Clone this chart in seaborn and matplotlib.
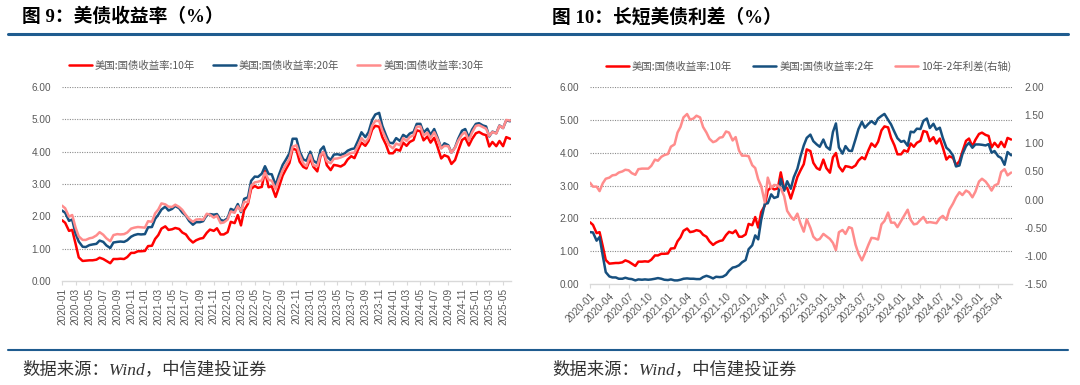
import pandas as pd
import numpy as np
import matplotlib
matplotlib.use("Agg")
import matplotlib.pyplot as plt
import matplotlib.dates as mdates
from matplotlib.lines import Line2D
import seaborn as sns

# semi-monthly readings (1st and 16th of each month), 2020-01-01 .. 2025-06-01
dates = pd.date_range("2020-01-01", periods=131, freq="SMS")

us10y = [1.88, 1.80, 1.55, 1.58, 1.15, 0.73, 0.62, 0.63, 0.64, 0.64, 0.66, 0.72,
         0.68, 0.62, 0.55, 0.68, 0.68, 0.69, 0.68, 0.74, 0.87, 0.87, 0.92, 0.92,
         0.93, 1.08, 1.09, 1.30, 1.42, 1.62, 1.69, 1.58, 1.60, 1.64, 1.61, 1.50,
         1.44, 1.30, 1.19, 1.26, 1.31, 1.33, 1.49, 1.59, 1.55, 1.63, 1.44, 1.44,
         1.51, 1.83, 1.79, 2.04, 1.72, 2.19, 2.39, 2.85, 2.94, 2.88, 2.91, 3.40,
         2.90, 2.93, 2.60, 2.89, 3.26, 3.45, 3.65, 4.10, 4.05, 3.69, 3.53, 3.48,
         3.79, 3.53, 3.39, 3.86, 3.99, 3.58, 3.43, 3.59, 3.57, 3.54, 3.61, 3.76,
         3.86, 3.80, 4.08, 4.28, 4.18, 4.33, 4.68, 4.80, 4.77, 4.45, 4.22, 3.95,
         3.95, 4.07, 4.03, 4.28, 4.18, 4.30, 4.36, 4.66, 4.63, 4.35, 4.47, 4.28,
         4.43, 4.16, 3.79, 3.89, 3.84, 3.62, 3.74, 4.03, 4.36, 4.43, 4.19, 4.39,
         4.57, 4.61, 4.54, 4.51, 4.16, 4.30, 4.17, 4.33, 4.17, 4.45, 4.40]

us20y = [2.18, 2.11, 1.86, 1.90, 1.46, 1.22, 1.06, 1.05, 1.11, 1.13, 1.15, 1.25,
         1.21, 1.10, 1.02, 1.19, 1.21, 1.22, 1.21, 1.26, 1.37, 1.42, 1.45, 1.44,
         1.45, 1.66, 1.67, 1.92, 2.05, 2.21, 2.30, 2.18, 2.23, 2.32, 2.25, 2.12,
         2.02, 1.86, 1.74, 1.82, 1.82, 1.85, 2.04, 2.07, 2.05, 2.07, 1.89, 1.86,
         1.94, 2.23, 2.18, 2.38, 2.13, 2.54, 2.59, 3.10, 3.23, 3.22, 3.32, 3.55,
         3.31, 3.30, 2.96, 3.27, 3.59, 3.75, 3.95, 4.40, 4.40, 4.01, 3.76, 3.72,
         4.00, 3.72, 3.64, 4.05, 4.16, 3.85, 3.74, 3.91, 3.92, 3.90, 3.94, 4.03,
         4.08, 4.10, 4.36, 4.60, 4.45, 4.60, 4.98, 5.15, 5.20, 4.80, 4.51, 4.28,
         4.26, 4.42, 4.33, 4.52, 4.45, 4.56, 4.61, 4.86, 4.86, 4.59, 4.71, 4.52,
         4.70, 4.45, 4.11, 4.26, 4.20, 3.97, 4.13, 4.40, 4.65, 4.70, 4.43, 4.68,
         4.86, 4.88, 4.81, 4.78, 4.47, 4.62, 4.57, 4.81, 4.73, 4.97, 4.94]

us30y = [2.33, 2.25, 1.99, 2.04, 1.65, 1.38, 1.27, 1.27, 1.32, 1.34, 1.41, 1.51,
         1.43, 1.32, 1.23, 1.42, 1.45, 1.44, 1.45, 1.50, 1.62, 1.65, 1.67, 1.66,
         1.65, 1.85, 1.83, 2.09, 2.21, 2.40, 2.37, 2.30, 2.29, 2.36, 2.29, 2.20,
         2.04, 1.92, 1.83, 1.90, 1.91, 1.89, 2.08, 2.05, 1.96, 2.02, 1.79, 1.81,
         1.90, 2.15, 2.11, 2.31, 2.16, 2.45, 2.44, 2.95, 3.05, 3.07, 3.11, 3.35,
         3.13, 3.10, 2.84, 3.12, 3.42, 3.59, 3.78, 4.15, 4.20, 3.90, 3.64, 3.55,
         3.90, 3.58, 3.55, 3.90, 3.98, 3.70, 3.64, 3.78, 3.79, 3.82, 3.87, 3.91,
         3.96, 3.97, 4.20, 4.42, 4.29, 4.42, 4.80, 4.95, 4.95, 4.65, 4.40, 4.20,
         4.10, 4.25, 4.20, 4.42, 4.33, 4.45, 4.51, 4.77, 4.78, 4.50, 4.59, 4.42,
         4.60, 4.40, 4.10, 4.18, 4.17, 3.97, 4.12, 4.34, 4.53, 4.60, 4.34, 4.59,
         4.80, 4.82, 4.76, 4.71, 4.49, 4.61, 4.56, 4.80, 4.73, 4.98, 4.96]

us2y = [1.58, 1.57, 1.32, 1.43, 0.86, 0.36, 0.23, 0.20, 0.20, 0.16, 0.16, 0.19,
        0.16, 0.15, 0.11, 0.14, 0.13, 0.14, 0.13, 0.14, 0.16, 0.18, 0.16, 0.13,
        0.12, 0.14, 0.11, 0.11, 0.13, 0.16, 0.17, 0.16, 0.16, 0.15, 0.15, 0.21,
        0.25, 0.22, 0.17, 0.22, 0.21, 0.22, 0.28, 0.40, 0.50, 0.52, 0.57, 0.66,
        0.73, 1.06, 1.18, 1.48, 1.36, 1.95, 2.44, 2.46, 2.73, 2.62, 2.66, 3.20,
        2.84, 3.13, 2.90, 3.25, 3.51, 3.87, 4.22, 4.45, 4.55, 4.35, 4.25, 4.18,
        4.40, 4.18, 4.09, 4.63, 4.89, 4.16, 3.97, 4.20, 4.06, 4.05, 4.41, 4.72,
        4.94, 4.76, 4.88, 4.96, 4.87, 5.04, 5.12, 5.18, 5.00, 4.86, 4.63, 4.44,
        4.33, 4.36, 4.21, 4.64, 4.62, 4.73, 4.72, 4.97, 5.04, 4.75, 4.88, 4.70,
        4.76, 4.45, 4.15, 4.07, 3.91, 3.58, 3.61, 3.95, 4.20, 4.30, 4.15, 4.25,
        4.25, 4.24, 4.22, 4.26, 4.00, 4.05, 3.89, 3.84, 3.63, 4.02, 3.92]

df = pd.DataFrame({"date": dates, "y10": us10y, "y20": us20y, "y30": us30y, "y2": us2y})
df["spread"] = df["y10"] - df["y2"]

lab10 = "美国:国债收益率:10年"
lab20 = "美国:国债收益率:20年"
lab30 = "美国:国债收益率:30年"
lab2 = "美国:国债收益率:2年"
lab_sp = "10年-2年利差(右轴)"

RED = "#FF0000"
BLUE = "#17507F"
PINK = "#FF8C8C"
GREY = "#595959"
RULE = "#1F5C8F"

sns.set_theme(style="white")
plt.rcParams["font.family"] = ["Liberation Sans", "Noto Sans CJK SC", "DejaVu Sans"]
plt.rcParams["axes.unicode_minus"] = False

W, H = 1080, 385
fig = plt.figure(figsize=(W / 100, H / 100), dpi=100)

ax1 = fig.add_axes([62 / W, 1 - 281 / H, 449 / W, 194 / H])
ax2 = fig.add_axes([590 / W, 1 - 284 / H, 422 / W, 197 / H])
ax2r = ax2.twinx()

lw = 1.8
sns.lineplot(data=df, x="date", y="y10", ax=ax1, color=RED, lw=lw, label=lab10, legend=False)
sns.lineplot(data=df, x="date", y="y20", ax=ax1, color=BLUE, lw=lw, label=lab20, legend=False)
sns.lineplot(data=df, x="date", y="y30", ax=ax1, color=PINK, lw=lw, label=lab30, legend=False)

sns.lineplot(data=df, x="date", y="y10", ax=ax2, color=RED, lw=lw, label=lab10, legend=False)
sns.lineplot(data=df, x="date", y="y2", ax=ax2, color=BLUE, lw=lw, label=lab2, legend=False)
sns.lineplot(data=df, x="date", y="spread", ax=ax2r, color=PINK, lw=lw, label=lab_sp, legend=False)

xmin, xmax = pd.Timestamp("2020-01-01"), pd.Timestamp("2025-06-05")
for ax in (ax1, ax2, ax2r):
    ax.set_xlim(xmin, xmax)
    ax.set_xlabel("")
    ax.set_ylabel("")
    if ax.get_legend():
        ax.get_legend().remove()

for ax in (ax1, ax2):
    ax.set_ylim(0, 6)
    ax.set_yticks(np.arange(0, 6.01, 1))
    ax.yaxis.set_major_formatter(matplotlib.ticker.FormatStrFormatter("%.2f"))
    for s in ("top", "right", "left"):
        ax.spines[s].set_visible(False)
    ax.spines["bottom"].set_color("#d9d9d9")
    ax.spines["bottom"].set_linewidth(1.0)
    ax.tick_params(axis="y", length=0, pad=8, labelsize=7.2, labelcolor=GREY)
    ax.tick_params(axis="x", length=3, width=0.8, color="#d9d9d9", pad=2,
                   labelsize=7.2, labelcolor=GREY, bottom=True, direction="out")
    ax.yaxis.grid(True, color="#8c8c8c", linestyle=(0, (1, 1.2)), lw=0.8)
    ax.xaxis.grid(False)
    ax.get_ygridlines()[0].set_visible(False)
    ax.set_axisbelow(True)

ax2r.set_ylim(-1.5, 2.0)
ax2r.set_yticks(np.arange(-1.5, 2.01, 0.5))
ax2r.yaxis.set_major_formatter(matplotlib.ticker.FormatStrFormatter("%.2f"))
for s in ("top", "right", "left", "bottom"):
    ax2r.spines[s].set_visible(False)
ax2r.tick_params(axis="y", length=0, pad=9, labelsize=7.2, labelcolor=GREY)
ax2r.grid(False)

ax1.xaxis.set_major_locator(mdates.MonthLocator(bymonth=[1, 3, 5, 7, 9, 11]))
ax1.xaxis.set_major_formatter(mdates.DateFormatter("%Y-%m"))
for t in ax1.get_xticklabels():
    t.set_rotation(90)

ax2.xaxis.set_major_locator(mdates.MonthLocator(bymonth=[1, 4, 7, 10]))
ax2.xaxis.set_major_formatter(mdates.DateFormatter("%Y-%m"))
for t in ax2.get_xticklabels():
    t.set_rotation(45)
    t.set_ha("right")
    t.set_rotation_mode("anchor")

leg_kw = dict(loc="center left", ncol=3, frameon=False, labelcolor=GREY,
              handlelength=2.2, handletextpad=0.3, borderpad=0, borderaxespad=0,
              prop={"family": ["Noto Sans CJK SC", "DejaVu Sans"], "size": 7.5})
h1, l1 = ax1.get_legend_handles_labels()
fig.legend(h1, l1, bbox_to_anchor=(69 / W, 1 - 66 / H), columnspacing=1.7, **leg_kw)
h2, l2 = ax2.get_legend_handles_labels()
h3, l3 = ax2r.get_legend_handles_labels()
fig.legend(h2 + h3, l2 + l3, bbox_to_anchor=(606 / W, 1 - 66 / H), columnspacing=2.0, **leg_kw)

# titles, rules and source lines
tfam = ["Liberation Serif", "Noto Sans CJK SC", "DejaVu Sans"]
fig.text(22 / W, 1 - 17 / H, "图 9：美债收益率（%）", fontsize=13.5, fontweight="bold",
         family=tfam, va="center", ha="left", color="black")
fig.text(552 / W, 1 - 17 / H, "图 10：长短美债利差（%）", fontsize=13.5, fontweight="bold",
         family=tfam, va="center", ha="left", color="black")
fig.add_artist(Line2D([8 / W, 1068 / W], [1 - 34 / H] * 2, color=RULE, lw=2.2))
fig.add_artist(Line2D([8 / W, 1068 / W], [1 - 350 / H] * 2, color=RULE, lw=1.5))
fig.text(22 / W, 1 - 370 / H, "数据来源：Wind，中信建投证券", fontsize=12.5, style="italic",
         family=tfam, va="center", ha="left", color="#333333")
fig.text(552 / W, 1 - 370 / H, "数据来源：Wind，中信建投证券", fontsize=12.5, style="italic",
         family=tfam, va="center", ha="left", color="#333333")

fig.savefig("out.png", dpi=100)
